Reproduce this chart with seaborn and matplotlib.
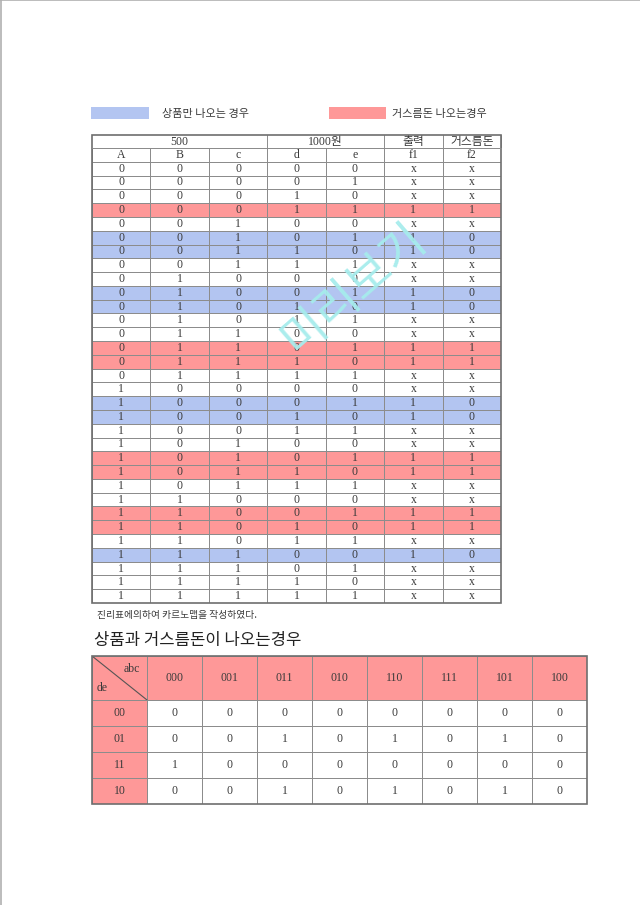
import numpy as np
import pandas as pd
import matplotlib
matplotlib.use('Agg')
import matplotlib.pyplot as plt
from matplotlib.colors import ListedColormap
import seaborn as sns

sns.set_theme(style='white')
plt.rcParams['font.family'] = ['Liberation Serif', 'Noto Sans CJK KR', 'DejaVu Sans']

# legend labels
legend_labels = ['상품만 나오는 경우', '거스름돈 나오는경우']

# truth table
top_headers = ['500', '1000원', '출력', '거스름돈']
col_labels = ['A', 'B', 'c', 'd', 'e', 'f1', 'f2']
A = ['0'] * 16 + ['1'] * 16
B = (['0'] * 8 + ['1'] * 8) * 2
C = (['0'] * 4 + ['1'] * 4) * 4
D = (['0'] * 2 + ['1'] * 2) * 8
E = ['0', '1'] * 16
f1 = ['x', 'x', 'x', '1', 'x', '1', '1', 'x', 'x', '1', '1', 'x', 'x', '1', '1', 'x',
      'x', '1', '1', 'x', 'x', '1', '1', 'x', 'x', '1', '1', 'x', '1', 'x', 'x', 'x']
f2 = ['x', 'x', 'x', '1', 'x', '0', '0', 'x', 'x', '0', '0', 'x', 'x', '1', '1', 'x',
      'x', '0', '0', 'x', 'x', '1', '1', 'x', 'x', '1', '1', 'x', '0', 'x', 'x', 'x']

caption = '진리표에의하여 카르노맵을 작성하였다.'
kmap_title = '상품과 거스름돈이 나오는경우'

# karnaugh map
kmap_cols = ['000', '001', '011', '010', '110', '111', '101', '100']
kmap_rows = ['00', '01', '11', '10']
kmap_vals = [[0, 0, 0, 0, 0, 0, 0, 0],
             [0, 0, 1, 0, 1, 0, 1, 0],
             [1, 0, 0, 0, 0, 0, 0, 0],
             [0, 0, 1, 0, 1, 0, 1, 0]]

WHITE, BLUE, RED = '#ffffff', '#b3c5f1', '#fe9898'
cmap = ListedColormap([WHITE, BLUE, RED])
GRID = '#8c8c8c'
TXT = '#3a3a3a'
W, H = 640, 905

fig = plt.figure(figsize=(W / 100, H / 100), dpi=100)
bg = fig.add_axes([0, 0, 1, 1])
bg.set_xlim(0, W)
bg.set_ylim(H, 0)
bg.axis('off')


def px_axes(x0, y0, x1, y1):
    return fig.add_axes([x0 / W, 1 - y1 / H, (x1 - x0) / W, (y1 - y0) / H])


# page border
bg.plot([0.5, 0.5], [0, H], color='#b0b0b0', lw=1.2)
bg.plot([0, W], [0.5, 0.5], color='#b0b0b0', lw=1.2)

# legend
bg.add_patch(plt.Rectangle((91, 107), 58, 12, color=BLUE, lw=0))
bg.text(162, 113.5, legend_labels[0], fontsize=8, va='center', color=TXT,
        family=['Noto Sans CJK KR'])
bg.add_patch(plt.Rectangle((329, 107), 57, 12, color=RED, lw=0))
bg.text(392, 113.5, legend_labels[1], fontsize=8, va='center', color=TXT,
        family=['Noto Sans CJK KR'])

# truth table body (header row of labels + 32 data rows)
tt = pd.DataFrame({'A': A, 'B': B, 'c': C, 'd': D, 'e': E, 'f1': f1, 'f2': f2})
cls = np.where((tt['f1'] == '1') & (tt['f2'] == '1'), 2,
               np.where(tt['f1'] == '1', 1, 0))
cls_mat = np.vstack([np.zeros((1, 7)), np.repeat(cls[:, None], 7, axis=1)])
annot = np.vstack([np.array(col_labels)[None, :], tt.values])

x0, x1, ytop, y1, y2 = 92, 501, 135, 148, 603
ax = px_axes(x0, y1, x1, y2)
sns.heatmap(cls_mat, ax=ax, cmap=cmap, vmin=0, vmax=2, cbar=False,
            annot=annot, fmt='', linewidths=0.7, linecolor=GRID,
            annot_kws={'fontsize': 8.5, 'color': TXT},
            xticklabels=False, yticklabels=False)

# top merged header row
cw = (x1 - x0) / 7
spans = [(0, 3), (3, 5), (5, 6), (6, 7)]
for (a, b), lab in zip(spans, top_headers):
    xa, xb = x0 + a * cw, x0 + b * cw
    bg.plot([xb, xb], [ytop, y1], color=GRID, lw=0.7)
    bg.text((xa + xb) / 2, (ytop + y1) / 2 + 0.5, lab, fontsize=8.5, ha='center',
            va='center', color=TXT)

# caption and title
bg.text(97, 615, caption, fontsize=7, va='center', color=TXT,
        family=['Noto Sans CJK KR'])
bg.text(94, 640, kmap_title, fontsize=12, va='center', color='#222222',
        family=['Noto Sans CJK KR'])

# karnaugh map header
kx0, kx1, ky0, ky1, ky2 = 92, 587, 656, 700, 804
axh = px_axes(kx0, ky0, kx1, ky1)
sns.heatmap(np.full((1, 9), 2), ax=axh, cmap=cmap, vmin=0, vmax=2, cbar=False,
            annot=np.array([[''] + kmap_cols]), fmt='', linewidths=0.7,
            linecolor=GRID, annot_kws={'fontsize': 8.5, 'color': TXT},
            xticklabels=False, yticklabels=False)
axh.plot([0, 1], [0, 1], color='#555555', lw=0.8)
axh.text(0.88, 0.3, 'abc', fontsize=8.5, ha='right', va='center', color=TXT)
axh.text(0.08, 0.72, 'de', fontsize=8.5, ha='left', va='center', color=TXT)

# karnaugh map body
body_cls = np.hstack([np.full((4, 1), 2), np.zeros((4, 8))])
body_annot = np.hstack([np.array(kmap_rows)[:, None], np.array(kmap_vals).astype(str)])
axb = px_axes(kx0, ky1, kx1, ky2)
sns.heatmap(body_cls, ax=axb, cmap=cmap, vmin=0, vmax=2, cbar=False,
            annot=body_annot, fmt='', linewidths=0.7, linecolor=GRID,
            annot_kws={'fontsize': 8.5, 'color': TXT},
            xticklabels=False, yticklabels=False)

# overlay for outer borders and watermark
ov = fig.add_axes([0, 0, 1, 1])
ov.patch.set_alpha(0)
ov.set_xlim(0, W)
ov.set_ylim(H, 0)
ov.axis('off')
ov.add_patch(plt.Rectangle((x0, ytop), x1 - x0, y2 - ytop, fill=False,
                           edgecolor='#6e6e6e', lw=1.2))
ov.plot([x0, x1], [y1, y1], color=GRID, lw=0.7)
ov.add_patch(plt.Rectangle((kx0, ky0), kx1 - kx0, ky2 - ky0, fill=False,
                           edgecolor='#6e6e6e', lw=1.2))

# watermark
ov.text(354, 289, '미리보기', fontsize=34, color='#a6ecec',
        rotation=41, ha='center', va='center', family=['Noto Sans CJK KR'],
        fontweight='light', alpha=0.95)

fig.savefig('out.png', dpi=100)
